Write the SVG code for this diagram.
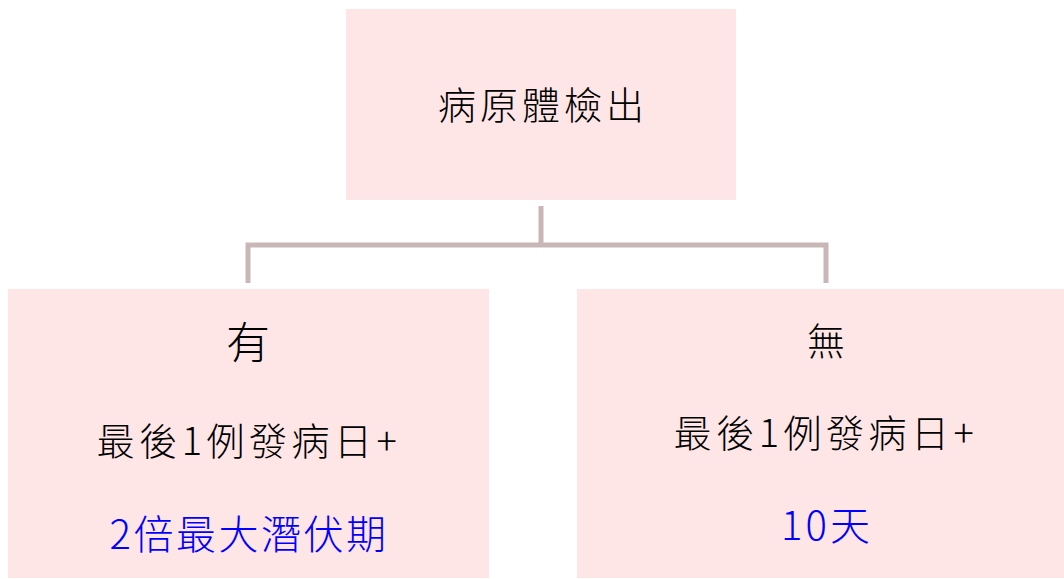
<svg xmlns="http://www.w3.org/2000/svg" width="1064" height="579" viewBox="0 0 1064 579">
<style>
.box{fill:#FFE6E6}
.t{font-family:"Noto Sans CJK TC","Noto Sans CJK SC",sans-serif;text-anchor:middle;fill:#000;font-weight:300}
.b{fill:#0000FF}
.c{fill:none;stroke:#C9B7B7;stroke-width:5}
</style>
<rect width="1064" height="579" fill="#fff"/>
<g id="connectors">
<path class="c" d="M541,206 V245 M248,283 V245 H826 V283"/>
</g>
<g id="root">
<rect class="box" x="346" y="9" width="390" height="191"/>
<text class="t" x="543" y="119" font-size="38" letter-spacing="4">病原體檢出</text>
</g>
<g id="yes">
<rect class="box" x="8" y="289" width="481" height="289"/>
<text class="t" x="248" y="359" font-size="44">有</text>
<text class="t" x="249" y="455" font-size="38" letter-spacing="4.5">最後1例發病日+</text>
<text class="t b" x="249" y="549" font-size="40" letter-spacing="2.5">2倍最大潛伏期</text>
</g>
<g id="no">
<rect class="box" x="577" y="289" width="487" height="289"/>
<text class="t" x="826" y="355" font-size="38">無</text>
<text class="t" x="826" y="447" font-size="38" letter-spacing="4.5">最後1例發病日+</text>
<text class="t b" x="827" y="540" font-size="40" letter-spacing="3">10天</text>
</g>
</svg>
